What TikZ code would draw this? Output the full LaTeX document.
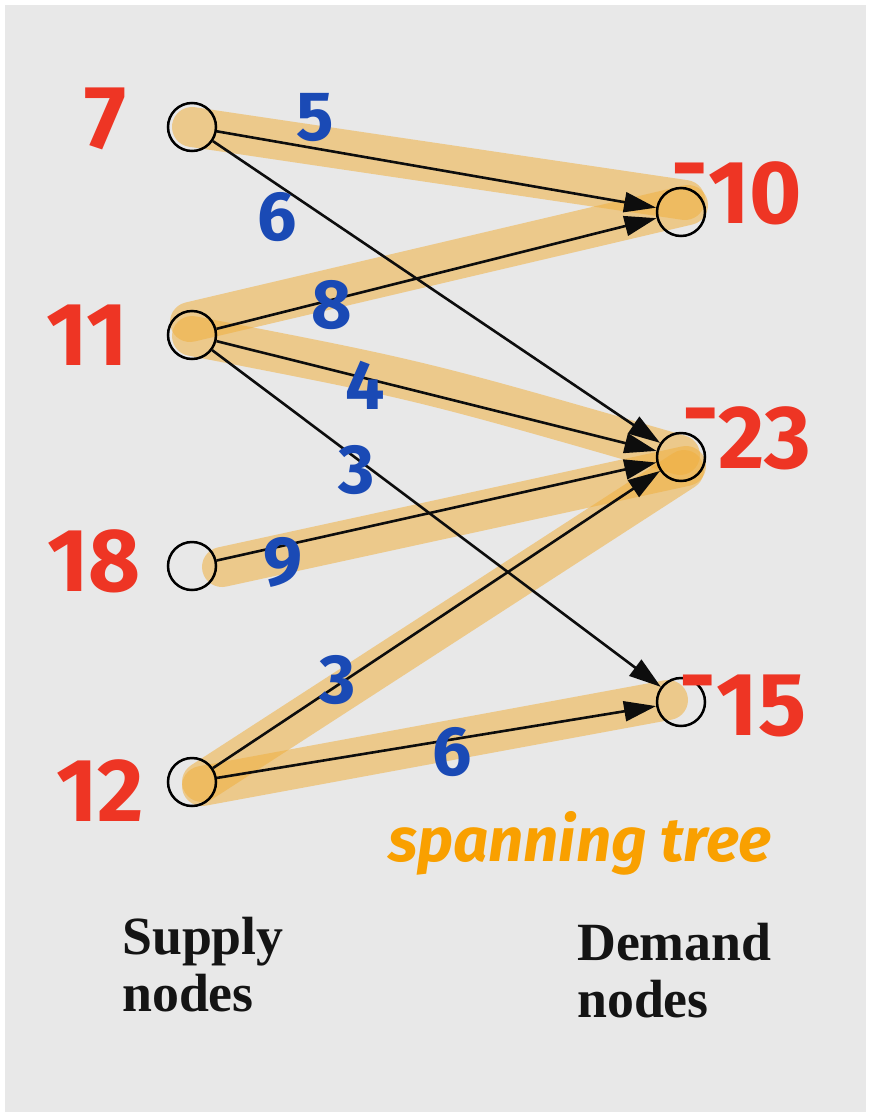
\documentclass[tikz,border=0pt]{standalone}
\usepackage{fontspec}
\setmainfont{Liberation Serif}
\newfontfamily\handfont{Fira Sans}
\usetikzlibrary{arrows.meta}
\pgfdeclarelayer{back}
\pgfsetlayers{back,main}
\definecolor{bg}{HTML}{E8E8E8}
\definecolor{hl}{HTML}{F0B040}
\definecolor{redn}{HTML}{EE3524}
\definecolor{bluen}{HTML}{1A4AB5}
\definecolor{orn}{HTML}{F9A000}
\tikzset{
  vertex/.style={circle, draw=black, line width=2.5bp, minimum size=48bp, inner sep=0pt},
  arc/.style={draw=black!95, line width=2.6bp, -{Triangle[length=32bp,width=20bp]}},
  hilite/.style={draw=hl, draw opacity=0.55, line width=40bp, line cap=round},
  amount/.style={text=redn, font=\handfont\bfseries\fontsize{90}{90}\selectfont, inner sep=0pt},
  cost/.style={text=bluen, font=\handfont\bfseries\fontsize{70}{70}\selectfont, inner sep=0pt},
  caption/.style={font=\bfseries\fontsize{54}{53}\selectfont, align=left, anchor=north west, inner sep=0pt, text=black!92}
}
\begin{document}
\begin{tikzpicture}[x=1bp,y=-1bp]
\useasboundingbox (0,0) rectangle (869,1115);
% nodes
\node[vertex] (s1) at (192,127) {};
\node[vertex] (s2) at (192,335) {};
\node[vertex] (s3) at (192,566) {};
\node[vertex] (s4) at (192,782) {};
\node[vertex] (d1) at (681,212) {};
\node[vertex] (d2) at (681,457) {};
\node[vertex] (d3) at (681,702) {};
\begin{pgfonlayer}{back}
  \fill[white] (0,0) rectangle (869,1115);
  \fill[bg] (5,5) rectangle (866,1112);
  % spanning tree highlight strokes
  \draw[hilite] (s1.center) -- (685,200);
  \draw[hilite] (190,322) -- (688,205);
  \draw[hilite] (192,336) .. controls (420,380) .. (680,455);
  \draw[hilite] (222,567) -- (686,466);
  \draw[hilite] (202,782) -- (684,470);
  \draw[hilite] (202,786) -- (668,700);
\end{pgfonlayer}
% arcs
\draw[arc] (s1) -- (d1);
\draw[arc] (s1) -- (d2);
\draw[arc] (s2) -- (d1);
\draw[arc] (s2) -- (d2);
\draw[arc] (s2) -- (d3);
\draw[arc] (s3) -- (d2);
\draw[arc] (s4) -- (d2);
\draw[arc] (s4) -- (d3);
% supplies and demands
\node[amount] (a1) at (105,119) {7};
\node[amount] (a2) at (87,335) {11};
\node[amount] (a3) at (94,561) {18};
\node[amount] (a4) at (100,791) {12};
\node[amount] (b1) at (737,193) {\raisebox{0.3em}{-}10};
\node[amount] (b2) at (747,438) {\raisebox{0.3em}{-}23};
\node[amount] (b3) at (743,706) {\raisebox{0.3em}{-}15};
% costs
\node[cost] (c1) at (315,118) {5};
\node[cost] (c2) at (277,217) {6};
\node[cost] (c3) at (332,305) {8};
\node[cost] (c4) at (365,385) {4};
\node[cost] (c5) at (357,470) {3};
\node[cost] (c6) at (283,562) {9};
\node[cost] (c7) at (338,680) {3};
\node[cost] (c8) at (452,752) {6};
% annotation
\node[text=orn, font=\handfont\bfseries\itshape\fontsize{62}{62}\selectfont, inner sep=0pt] (st) at (580,843) {spanning tree};
% captions
\node[caption] (sup) at (122,917) {Supply\\[4bp]nodes};
\node[caption] (dem) at (577,923) {Demand\\[4bp]nodes};
\end{tikzpicture}
\end{document}
